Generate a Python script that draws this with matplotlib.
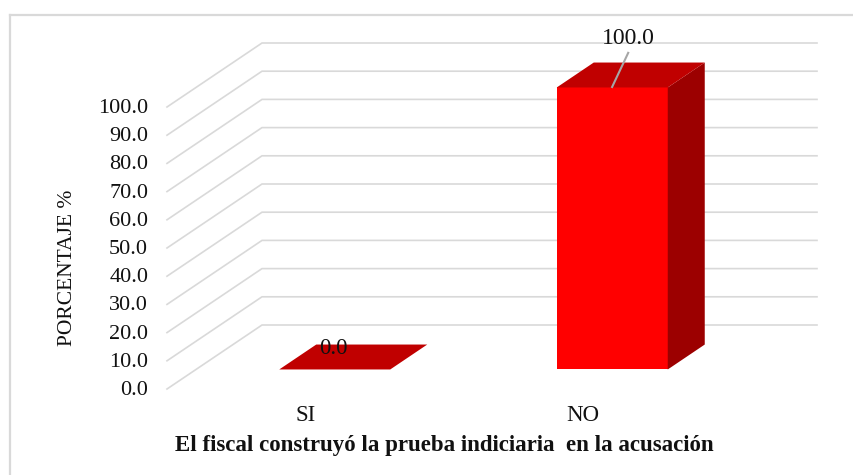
import matplotlib
matplotlib.use('Agg')
import matplotlib.pyplot as plt
from matplotlib.patches import Polygon

categories = ['SI', 'NO']
values = [0.0, 100.0]
yticks = [0, 10, 20, 30, 40, 50, 60, 70, 80, 90, 100]

W, H = 854, 475
plt.rcParams['font.family'] = ['Liberation Serif', 'DejaVu Serif']

fig = plt.figure(figsize=(W / 100, H / 100), dpi=100)

# front plane of the 3d box, in pixels
left, right, bottom, top = 167, 722, 389, 107
ax = fig.add_axes([left / W, 1 - bottom / H, (right - left) / W, (bottom - top) / H])
ax.set_xlim(0, 2)
ax.set_ylim(0, 100)
ax.axis('off')

# depth of the box in data units
depth_x = 95 / 277.5
depth_y = 64 / 2.82
bar_w = 0.4
bar_d = 37 / 95


def proj(x, y, d):
    return (x + d * depth_x, y + d * depth_y)


for t in yticks:
    ax.plot([proj(0, t, 0)[0], proj(0, t, 1)[0], proj(2, t, 1)[0]],
            [proj(0, t, 0)[1], proj(0, t, 1)[1], proj(2, t, 1)[1]],
            color='#d9d9d9', lw=1.2, clip_on=False, zorder=1, solid_joinstyle='miter')
    ax.text(-0.068, t - 0.5, '%.1f' % t, ha='right', va='center', fontsize=16, color='#111111', clip_on=False)

d0 = (1 - bar_d) / 2
d1 = d0 + bar_d
for i, v in enumerate(values):
    x0 = i + 0.5 - bar_w / 2
    x1 = i + 0.5 + bar_w / 2
    front = [proj(x0, 0, d0), proj(x1, 0, d0), proj(x1, v, d0), proj(x0, v, d0)]
    side = [proj(x1, 0, d0), proj(x1, 0, d1), proj(x1, v, d1), proj(x1, v, d0)]
    lid = [proj(x0, v, d0), proj(x1, v, d0), proj(x1, v, d1), proj(x0, v, d1)]
    ax.add_patch(Polygon(front, color='#ff0000', lw=0, zorder=2, clip_on=False))
    ax.add_patch(Polygon(side, color='#9c0000', lw=0, zorder=2, clip_on=False))
    ax.add_patch(Polygon(lid, color='#c00000', lw=0, zorder=3, clip_on=False))
    ax.text(i + 0.5, -9.5, categories[i], ha='center', va='center', fontsize=16.5, color='#111111', clip_on=False)

# data labels
ax.text(0.5 + 0.098, 14.2, '%.1f' % values[0], ha='center', va='center', fontsize=16.5, color='#111111', zorder=4)
ax.text(1.5 + 0.163, 124.2, '%.1f' % values[1], ha='center', va='center', fontsize=17, color='#111111', zorder=4, clip_on=False)
ax.plot([1.5 + 0.104, 1.5 + 0.162], [107.1, 119.2], color='#a6a6a6', lw=1.5, zorder=4, clip_on=False)

fig.text(67 / W, 1 - 268 / H, 'PORCENTAJE %', rotation=90, ha='center', va='center', fontsize=15.5, color='#111111')
fig.text(444 / W, 1 - 446 / H, 'El fiscal construyó la prueba indiciaria  en la acusación',
         ha='center', va='center', fontsize=16.5, fontweight='bold', color='#111111')

# chart frame
fig.add_artist(plt.Line2D([10 / W, 10 / W], [0, 1 - 15 / H], color='#d9d9d9', lw=1.6))
fig.add_artist(plt.Line2D([10 / W, 1], [1 - 15 / H, 1 - 15 / H], color='#d9d9d9', lw=1.6))

fig.savefig('out.png', dpi=100)
